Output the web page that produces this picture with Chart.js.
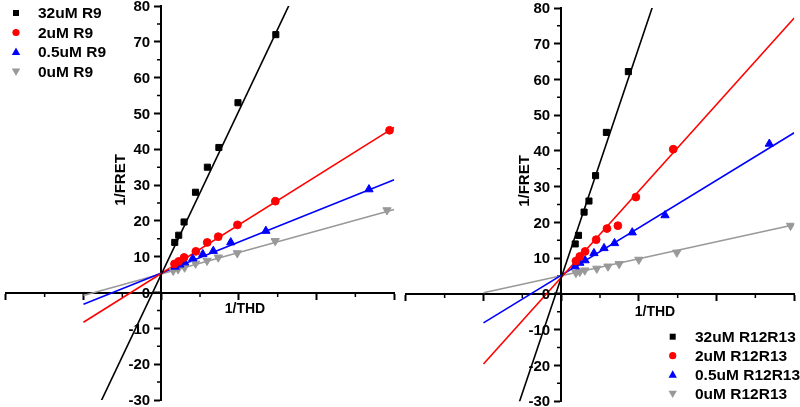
<!DOCTYPE html>
<html><head><meta charset="utf-8">
<script src="https://cdn.jsdelivr.net/npm/chart.js@4"></script>
<style>
html,body{margin:0;padding:0;background:#fff;}
#wrap{position:relative;width:800px;height:407px;overflow:hidden;}
canvas{position:absolute;top:0;}
</style></head><body>
<div id="wrap">
<canvas id="c1" width="400" height="407" style="left:0px"></canvas>
<canvas id="c2" width="400" height="407" style="left:400px"></canvas>
</div>
<script>
// ---------- data ----------
// Left panel (R9)
const r9_32uM_x = [0.175, 0.226, 0.295, 0.442, 0.595, 0.743, 0.989, 1.476];
const r9_32uM_y = [14.0, 16.0, 19.7, 28.0, 35.0, 40.5, 53.0, 72.0];
const r9_2uM_x  = [0.172, 0.226, 0.295, 0.447, 0.593, 0.735, 0.982, 1.470, 2.940];
const r9_2uM_y  = [8.0, 8.7, 9.8, 11.5, 14.0, 15.6, 18.9, 25.5, 45.3];
const r9_05uM_x = [0.180, 0.240, 0.302, 0.407, 0.536, 0.671, 0.896, 1.348, 2.675];
const r9_05uM_y = [7.2, 7.8, 8.4, 9.5, 10.7, 11.6, 14.0, 17.2, 28.8];
const r9_0uM_x  = [0.155, 0.218, 0.302, 0.443, 0.591, 0.735, 0.980, 1.468, 2.907];
const r9_0uM_y  = [6.1, 6.5, 7.0, 8.1, 8.9, 9.8, 11.0, 14.4, 23.0];
const r9_fitSlope     = [45.7, 13.6, 8.7, 6.0];
const r9_fitIntercept = [5.0, 5.3, 5.4, 5.2];
const r9_labels = ['32uM R9', '2uM R9', '0.5uM R9', '0uM R9'];

// Right panel (R12R13)
const r1213_32uM_x = [0.181, 0.223, 0.295, 0.358, 0.443, 0.582, 0.865];
const r1213_32uM_y = [14.0, 16.4, 22.9, 26.0, 33.1, 45.2, 62.2];
const r1213_2uM_x  = [0.190, 0.240, 0.308, 0.451, 0.590, 0.730, 0.962, 1.443];
const r1213_2uM_y  = [9.2, 10.5, 11.9, 15.2, 18.3, 19.1, 27.1, 40.5];
const r1213_05uM_x = [0.181, 0.240, 0.308, 0.422, 0.552, 0.687, 0.915, 1.337, 2.680];
const r1213_05uM_y = [7.7, 8.7, 9.4, 11.4, 12.8, 14.2, 17.2, 22.0, 42.0];
const r1213_0uM_x  = [0.190, 0.240, 0.304, 0.459, 0.603, 0.747, 1.000, 1.489, 2.953];
const r1213_0uM_y  = [5.9, 6.2, 6.6, 7.1, 7.7, 8.4, 9.6, 11.6, 19.1];
const r1213_fitSlope     = [64.5, 24.2, 13.3, 4.75];
const r1213_fitIntercept = [4.5, 4.6, 5.2, 5.1];
const r1213_labels = ['32uM R12R13', '2uM R12R13', '0.5uM R12R13', '0uM R12R13'];

// axes / ticks
const fitRangeX = [-1, 3];
const xMin = -2, xMax = 3, xStep = 1;
const yMin = -30, yMax = 80, yStep = 10;
const xMinorTicks = [-1.5, -0.5, 0.5, 1.5, 2.5];
const yMinorTicks = [-25, -15, -5, 5, 15, 25, 35, 45, 55, 65, 75];
const xTitle = '1/THD';
const yTitle = '1/FRET';

// ---------- styles ----------
const FONT = '"Liberation Sans", Arial, Helvetica, sans-serif';
const colors = ['#000000', '#ff0000', '#0000ff', '#999999'];
const pStyles = ['rect', 'circle', 'triangle', 'triangle'];
const pRot = [0, 0, 0, 180];
const pRad = [4.3, 3.9, 4.8, 4.8];

function pts(xs, ys) { return xs.map((x, i) => ({x: x, y: ys[i]})); }
function fitPts(slope, intercept) { return fitRangeX.map(x => ({x: x, y: intercept + slope * x})); }

function buildDatasets(seriesX, seriesY, slopes, intercepts, labels) {
  const ds = [];
  for (let i = 0; i < 4; i++) {
    ds.push({
      type: 'line', label: labels[i] + ' fit', data: fitPts(slopes[i], intercepts[i]),
      borderColor: colors[i], borderWidth: 1.6, pointRadius: 0, showLine: true,
      fill: false, clip: 0, order: 5
    });
  }
  for (let i = 0; i < 4; i++) {
    ds.push({
      type: 'scatter', label: labels[i], data: pts(seriesX[i], seriesY[i]),
      backgroundColor: colors[i], borderColor: colors[i], borderWidth: 1,
      pointStyle: pStyles[i], rotation: pRot[i], pointRadius: pRad[i], showLine: false, order: 1
    });
  }
  return ds;
}

function zeroPad(s) { s.paddingLeft = 0; s.paddingRight = 0; s.paddingTop = 0; s.paddingBottom = 0; }

function scaleCfg() {
  const grid = {drawOnChartArea: false, drawTicks: true, tickLength: 6, tickWidth: 2, tickColor: '#000'};
  return {
    x: {
      type: 'linear', min: xMin, max: xMax, position: {y: 0},
      ticks: {stepSize: xStep, callback: () => '', padding: 0, autoSkip: false},
      grid: Object.assign({}, grid), border: {display: true, color: '#000', width: 2},
      afterFit: zeroPad
    },
    y: {
      type: 'linear', min: yMin, max: yMax, position: {x: 0},
      ticks: {stepSize: yStep, color: 'rgba(0,0,0,0)', padding: 3, autoSkip: false,
        font: {family: FONT, size: 15, weight: 'bold'}},
      grid: Object.assign({}, grid), border: {display: true, color: '#000', width: 2},
      afterFit: zeroPad
    }
  };
}

function drawMarker(ctx, style, rot, x, y, r, color) {
  ctx.save();
  ctx.fillStyle = color;
  ctx.beginPath();
  if (style === 'rect') {
    ctx.rect(x - r, y - r, 2 * r, 2 * r);
  } else if (style === 'circle') {
    ctx.arc(x, y, r, 0, Math.PI * 2);
  } else {
    const s = rot ? -1 : 1;
    ctx.moveTo(x, y - s * r * 1.1);
    ctx.lineTo(x + r * 1.05, y + s * r * 0.75);
    ctx.lineTo(x - r * 1.05, y + s * r * 0.75);
    ctx.closePath();
  }
  ctx.fill();
  ctx.restore();
}

const deco = {
  id: 'deco',
  beforeDatasetsDraw(chart, args, o) {
    const ctx = chart.ctx, xs = chart.scales.x, ys = chart.scales.y;
    const x0 = Math.round(xs.getPixelForValue(0)), y0 = Math.round(ys.getPixelForValue(0));
    ctx.save();
    ctx.strokeStyle = '#000'; ctx.lineWidth = 1.5;
    ctx.beginPath();
    xMinorTicks.forEach(v => { const px = xs.getPixelForValue(v); ctx.moveTo(px, y0); ctx.lineTo(px, y0 + 4); });
    yMinorTicks.forEach(v => { const py = ys.getPixelForValue(v); ctx.moveTo(x0, py); ctx.lineTo(x0 - 4, py); });
    ctx.stroke();
    ctx.restore();
  },
  afterDraw(chart, args, o) {
    const ctx = chart.ctx, xs = chart.scales.x, ys = chart.scales.y;
    const x0 = xs.getPixelForValue(0);
    ctx.save();
    ctx.fillStyle = '#000';
    // y tick labels (from the library's ticks), right-aligned left of the axis
    ctx.font = 'bold 15px ' + FONT;
    ctx.textAlign = 'right'; ctx.textBaseline = 'middle';
    ys.ticks.forEach(t => {
      const lbl = (t.label !== undefined && t.label !== null) ? t.label : String(t.value);
      ctx.fillText(lbl, x0 - 11, ys.getPixelForValue(t.value) + 1);
    });
    // axis titles
    ctx.textAlign = 'center';
    ctx.save();
    ctx.translate(o.yTitle[0], o.yTitle[1]);
    ctx.rotate(-Math.PI / 2);
    ctx.fillText(yTitle, 0, 0);
    ctx.restore();
    ctx.font = 'bold 14px ' + FONT;
    ctx.fillText(xTitle, o.xTitle[0], o.xTitle[1]);
    // legend
    ctx.font = 'bold 15.5px ' + FONT;
    ctx.textAlign = 'left';
    const lr = [3, 3.6, 4, 4];
    o.labels.forEach((t, i) => {
      const y = o.legend.y[i];
      drawMarker(ctx, pStyles[i], pRot[i], o.legend.mx, y, lr[i], colors[i]);
      ctx.fillStyle = '#000';
      ctx.fillText(t, o.legend.tx, y + 1);
    });
    ctx.restore();
  }
};

function makeChart(id, ds, pad, decoOpts) {
  return new Chart(document.getElementById(id), {
    data: {datasets: ds},
    options: {
      responsive: false, animation: false, devicePixelRatio: 1,
      layout: {padding: pad},
      scales: scaleCfg(),
      plugins: {legend: {display: false}, tooltip: {enabled: false}, deco: decoOpts}
    },
    plugins: [deco]
  });
}

makeChart('c1',
  buildDatasets([r9_32uM_x, r9_2uM_x, r9_05uM_x, r9_0uM_x], [r9_32uM_y, r9_2uM_y, r9_05uM_y, r9_0uM_y],
    r9_fitSlope, r9_fitIntercept, r9_labels),
  {left: 2, right: 4.5, top: 6, bottom: 7},
  {labels: r9_labels, yTitle: [121, 180], xTitle: [245, 309],
   legend: {mx: 16, tx: 38, y: [13, 32.5, 52, 71.5]}});

makeChart('c2',
  buildDatasets([r1213_32uM_x, r1213_2uM_x, r1213_05uM_x, r1213_0uM_x], [r1213_32uM_y, r1213_2uM_y, r1213_05uM_y, r1213_0uM_y],
    r1213_fitSlope, r1213_fitIntercept, r1213_labels),
  {left: 3, right: 2, top: 8, bottom: 5.3},
  {labels: r1213_labels, yTitle: [125, 181], xTitle: [255, 312],
   legend: {mx: 272.7, tx: 295, y: [336.7, 355.7, 374.7, 393.7]}});
</script>
</body></html>
